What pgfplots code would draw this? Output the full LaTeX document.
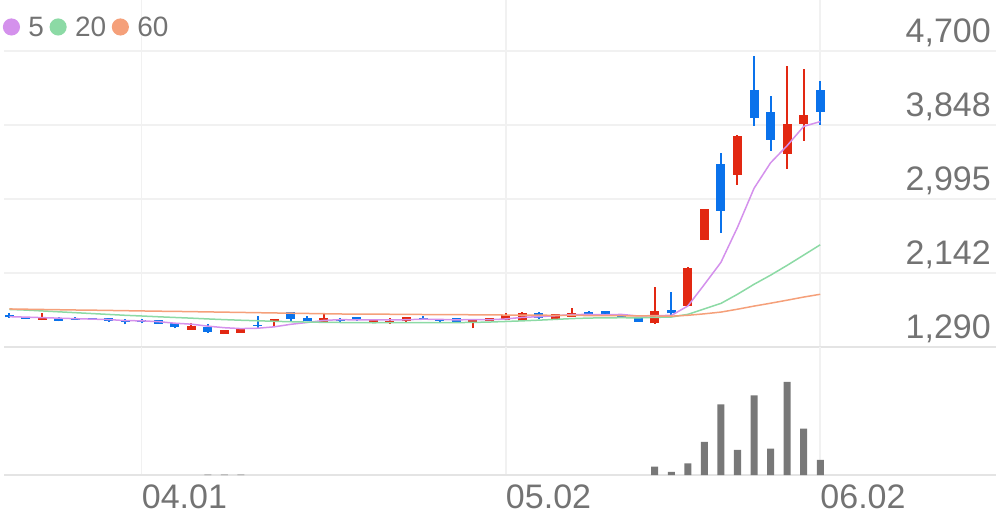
\documentclass[border=0pt]{standalone}
\usepackage{pgfplots}
\pgfplotsset{compat=1.18}
\usepackage{pgfplotstable}
\usepackage{fontspec}
\setmainfont{Liberation Sans}
\definecolor{cred}{RGB}{226,40,18}
\definecolor{cblue}{RGB}{10,114,235}
\definecolor{maA}{RGB}{212,145,236}
\definecolor{maB}{RGB}{140,218,165}
\definecolor{maC}{RGB}{245,160,122}
\definecolor{txt}{RGB}{115,115,115}
\definecolor{gridc}{RGB}{241,241,241}
\definecolor{basec}{RGB}{228,228,228}
\definecolor{volc}{RGB}{120,120,120}

\pgfplotstableread{
i O H L C
2 1601 1678 1598 1639
11 1489 1563 1486 1535
13 1440 1489 1437 1486
14 1455 1508 1452 1505
16 1575 1616 1535 1613
19 1581 1678 1578 1621
22 1566 1616 1563 1613
23 1575 1621 1555 1593
24 1586 1635 1575 1632
28 1581 1616 1505 1613
29 1590 1627 1587 1624
30 1601 1678 1598 1659
31 1593 1697 1590 1678
33 1613 1673 1610 1670
34 1639 1736 1636 1685
39 1563 1985 1555 1710
41 1766 2210 1760 2204
42 2523 2880 2520 2876
44 3271 3728 3156 3724
47 3513 4527 3341 3859
48 3859 4489 3663 3966
}\redtab

\pgfplotstableread{
i O H L C
0 1653 1676 1625 1630
1 1636 1640 1614 1618
3 1628 1632 1586 1590
4 1628 1630 1602 1605
5 1624 1627 1602 1605
6 1621 1623 1578 1590
7 1605 1607 1551 1581
8 1605 1607 1572 1575
9 1598 1600 1555 1558
10 1570 1572 1505 1517
12 1524 1551 1455 1466
15 1549 1651 1505 1538
17 1690 1693 1590 1613
18 1621 1651 1590 1593
20 1616 1619 1583 1586
21 1632 1635 1595 1598
25 1624 1644 1610 1613
26 1613 1616 1575 1590
27 1621 1624 1578 1581
32 1685 1688 1618 1621
35 1697 1700 1647 1670
36 1701 1704 1656 1659
37 1667 1670 1628 1639
38 1628 1632 1578 1581
40 1716 1920 1647 1678
43 3398 3528 2607 2857
45 4251 4642 3836 3925
46 4001 4185 3548 3675
49 4251 4358 3847 4001
}\bluetab

\pgfplotstableread{
i m5 m20 m60
0 1639 1722 1728
1 1634 1715 1725
2 1628 1705 1722
3 1622 1695 1719
4 1616 1685 1716
5 1611 1675 1714
6 1606 1665 1711
7 1594 1655 1708
8 1591 1647 1705
9 1582 1638 1702
10 1564 1630 1700
11 1553 1622 1697
12 1530 1613 1694
13 1512 1605 1691
14 1502 1598 1688
15 1506 1592 1685
16 1522 1586 1682
17 1551 1581 1679
18 1572 1577 1676
19 1596 1574 1673
20 1605 1572 1670
21 1602 1571 1669
22 1602 1569 1668
23 1602 1570 1667
24 1604 1571 1666
25 1610 1571 1664
26 1608 1571 1663
27 1602 1571 1662
28 1606 1573 1661
29 1604 1577 1660
30 1613 1584 1658
31 1631 1591 1657
32 1639 1599 1656
33 1650 1608 1655
34 1663 1617 1654
35 1665 1623 1652
36 1661 1626 1651
37 1665 1627 1650
38 1647 1626 1648
39 1652 1631 1647
40 1653 1635 1645
41 1762 1666 1655
42 2010 1729 1672
43 2265 1792 1692
44 2668 1897 1725
45 3117 2012 1761
46 3411 2117 1794
47 3608 2230 1829
48 3830 2348 1865
49 3885 2467 1897
}\matab

\pgfplotstableread{
i v
12 8
13 8
14 8
39 166
40 60
41 234
42 660
43 1414
44 500
45 1594
46 526
47 1860
48 926
49 300
}\voltab

\begin{document}
\begin{tikzpicture}
\useasboundingbox (0,0) rectangle (996bp,519bp);
\begin{axis}[
  at={(4bp,172bp)}, anchor=south west,
  scale only axis, width=992bp, height=347bp,
  xmin=-0.32, xmax=59.62, ymin=1290, ymax=5285,
  axis line style={draw=none}, major tick length=0pt,
  xtick={8,30,49}, xticklabels={}, xmajorgrids,
  ytick={2142.5,2995,3847.5,4700},
  yticklabels={2{,}142,2{,}995,3{,}848,4{,}700},
  ymajorgrids,
  grid style={gridc, line width=1.6bp},
  extra y ticks={1290}, extra y tick labels={1{,}290},
  extra y tick style={grid style={basec, line width=2bp}},
  yticklabel pos=right,
  yticklabel style={anchor=base east, inner sep=0pt, xshift=-5bp, yshift=8.5bp,
    font=\fontsize{34bp}{40bp}\selectfont, text=txt},
  clip=false,
  legend columns=3,
  legend style={draw=none, fill=none, at={(rel axis cs:0,1)}, anchor=north west,
    xshift=-1.3bp, yshift=-17bp, inner sep=0pt, text=txt,
    font=\fontsize{28bp}{32bp}\selectfont,
    nodes={inner sep=0pt, text depth=0pt},
    /tikz/every odd column/.style={column sep=8.5bp},
    /tikz/every even column/.style={column sep=5.5bp}},
]
% wicks
\addplot[draw=none, mark=none, forget plot,
  error bars/.cd, y dir=plus, y explicit, error mark=none,
  error bar style={draw=cred, line width=2bp}]
  table[x=i, y=L, y error plus expr=\thisrow{H}-\thisrow{L}] \redtab;
\addplot[draw=none, mark=none, forget plot,
  error bars/.cd, y dir=plus, y explicit, error mark=none,
  error bar style={draw=cblue, line width=2bp}]
  table[x=i, y=L, y error plus expr=\thisrow{H}-\thisrow{L}] \bluetab;
% bodies
\addplot[draw=none, mark=none, forget plot,
  error bars/.cd, y dir=plus, y explicit, error mark=none,
  error bar style={draw=cred, line width=9bp}]
  table[x=i, y=O, y error plus expr=\thisrow{C}-\thisrow{O}] \redtab;
\addplot[draw=none, mark=none, forget plot,
  error bars/.cd, y dir=plus, y explicit, error mark=none,
  error bar style={draw=cblue, line width=9bp}]
  table[x=i, y=C, y error plus expr=\thisrow{O}-\thisrow{C}] \bluetab;
% moving averages
\addplot[maA, line width=1.5bp, mark=none,
  legend image code/.code={\fill[maA] (7.8bp,0) circle (7.8bp); \path (0,-15.8bp);}]
  table[x=i, y=m5] \matab;
\addlegendentry{5}
\addplot[maB, line width=1.5bp, mark=none,
  legend image code/.code={\fill[maB] (7.8bp,0) circle (7.8bp); \path (0,-15.8bp);}]
  table[x=i, y=m20] \matab;
\addlegendentry{20}
\addplot[maC, line width=1.5bp, mark=none,
  legend image code/.code={\fill[maC] (7.8bp,0) circle (7.8bp); \path (0,-15.8bp);}]
  table[x=i, y=m60] \matab;
\addlegendentry{60}
\end{axis}

\begin{axis}[
  at={(4bp,44bp)}, anchor=south west,
  scale only axis, width=992bp, height=128bp,
  xmin=-0.32, xmax=59.62, ymin=0, ymax=2560,
  axis line style={draw=none}, major tick length=0pt,
  xtick={8,30,49}, xticklabels={04.01,05.02,06.02}, xmajorgrids,
  ytick=\empty, ymajorgrids,
  grid style={gridc, line width=1.6bp},
  extra y ticks={0}, extra y tick labels={},
  extra y tick style={grid style={basec, line width=2.5bp}},
  xticklabel style={anchor=base west, inner sep=0pt, yshift=-33bp,
    font=\fontsize{34bp}{40bp}\selectfont, text=txt},
  clip=false,
]
\addplot[ybar, bar width=7bp, fill=volc, draw=none] table[x=i, y=v] \voltab;
\end{axis}
\end{tikzpicture}
\end{document}
